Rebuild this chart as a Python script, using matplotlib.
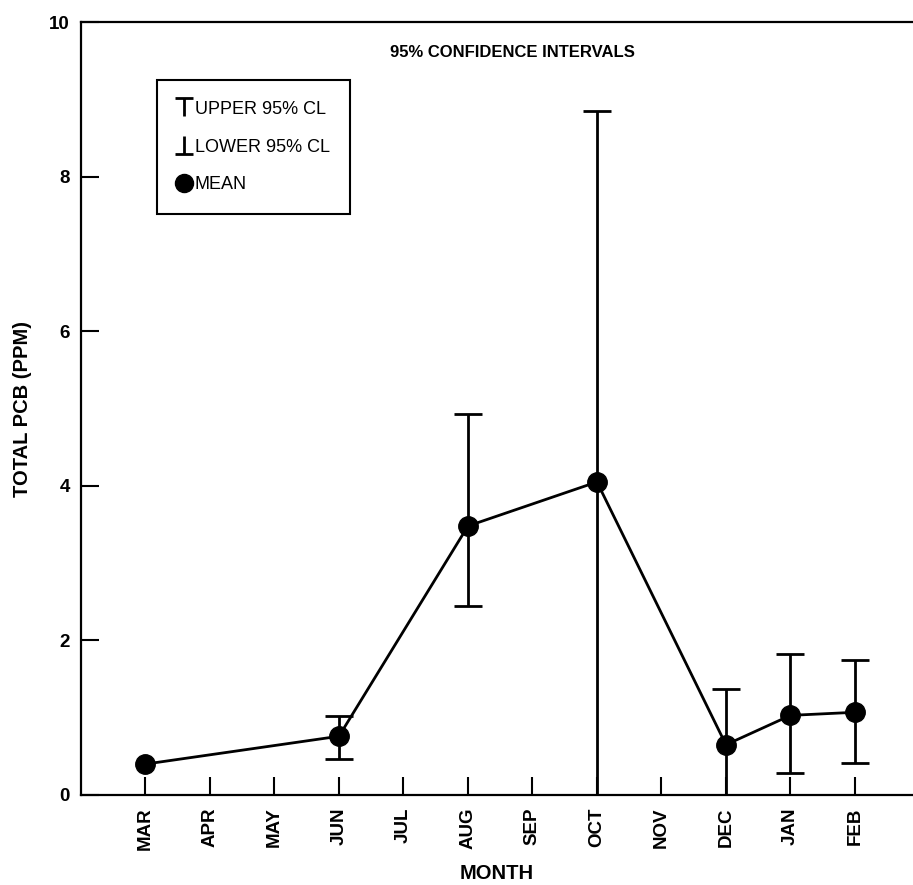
import matplotlib.pyplot as plt
from matplotlib.lines import Line2D
from matplotlib.path import Path
import numpy as np

months = ['MAR', 'APR', 'MAY', 'JUN', 'JUL', 'AUG', 'SEP', 'OCT', 'NOV', 'DEC', 'JAN', 'FEB']
sample_months = ['MAR', 'JUN', 'AUG', 'OCT', 'DEC', 'JAN', 'FEB']
mean_pcb = [0.40, 0.76, 3.48, 4.05, 0.65, 1.03, 1.07]
upper_cl = [np.nan, 1.02, 4.93, 8.85, 1.37, 1.82, 1.75]
lower_cl = [np.nan, 0.46, 2.45, 0.00, 0.00, 0.28, 0.41]

plt.rcParams['font.family'] = ['Liberation Sans', 'DejaVu Sans']

fig = plt.figure(figsize=(9.13, 8.85), dpi=100)
ax = fig.add_axes([0.0887, 0.1017, 0.9113, 0.8734])

x = np.array([months.index(m) for m in sample_months])
mean = np.array(mean_pcb)
yerr = [mean - np.array(lower_cl), np.array(upper_cl) - mean]

ax.errorbar(x, mean, yerr=yerr, color='black', linewidth=2.0, elinewidth=2.0,
            capsize=10, capthick=2.0, marker='o', markersize=14)

ax.set_xlim(-1, 11.9)
ax.set_ylim(0, 10)
ax.set_xticks(range(len(months)))
ax.set_xticklabels(months, rotation=90, fontweight='bold', fontsize=13.5)
ax.set_yticks([0, 2, 4, 6, 8, 10])
ax.set_yticklabels(['0', '2', '4', '6', '8', '10'], fontweight='bold', fontsize=13.5)
ax.tick_params(axis='both', direction='in', length=13, width=1.5)
ax.tick_params(axis='x', pad=9)
ax.tick_params(axis='y', pad=8)

ax.spines['right'].set_visible(False)
for s in ['left', 'top', 'bottom']:
    ax.spines[s].set_linewidth(1.6)

ax.set_xlabel('MONTH', fontweight='bold', fontsize=14.5, labelpad=10)
ax.set_ylabel('TOTAL PCB (PPM)', fontweight='bold', fontsize=14.5, labelpad=12)

ax.text(0.519, 0.96, '95% CONFIDENCE INTERVALS', transform=ax.transAxes,
        ha='center', va='center', fontweight='bold', fontsize=12)

# legend symbols
top_path = Path([(-1, 1), (1, 1), (0, 1), (0, -1)],
                [Path.MOVETO, Path.LINETO, Path.MOVETO, Path.LINETO])
bot_path = Path([(-1, -1), (1, -1), (0, -1), (0, 1)],
                [Path.MOVETO, Path.LINETO, Path.MOVETO, Path.LINETO])
handles = [
    Line2D([], [], linestyle='none', marker=top_path, markersize=13,
           markeredgewidth=2.0, color='black'),
    Line2D([], [], linestyle='none', marker=bot_path, markersize=13,
           markeredgewidth=2.0, color='black'),
    Line2D([], [], linestyle='none', marker='o', markersize=13, color='black'),
]
leg = ax.legend(handles, ['UPPER 95% CL', 'LOWER 95% CL', 'MEAN'],
                loc='upper left', bbox_to_anchor=(0.091, 0.925), borderaxespad=0,
                fancybox=False, edgecolor='black', framealpha=1, fontsize=13,
                handlelength=0.7, handletextpad=0.25, labelspacing=1.15,
                borderpad=1.15)
leg.get_frame().set_linewidth(1.5)

fig.savefig('out.png', dpi=100)
